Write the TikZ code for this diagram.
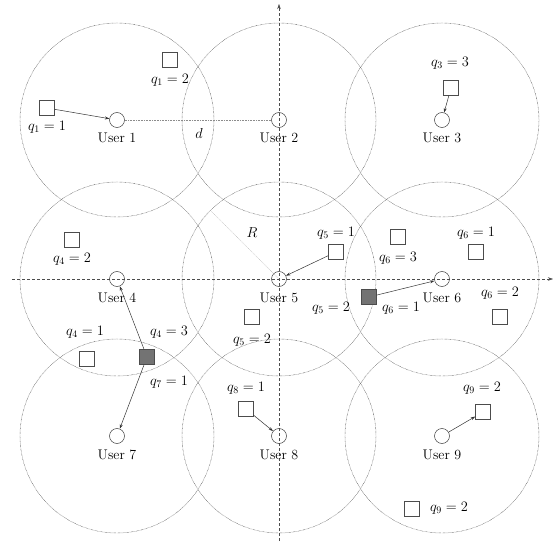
\documentclass[tikz,border=0pt]{standalone}
\usetikzlibrary{arrows.meta}
\begin{document}
\begin{tikzpicture}[x=1pt,y=-1pt,
  every node/.style={font=\fontsize{14}{16}\selectfont},
  zone/.style={draw=black!75,dash pattern=on 0.5pt off 0.8pt,line width=0.45pt},
  axis/.style={draw=black!70,dash pattern=on 3pt off 2pt,line width=0.45pt,-{Stealth[length=5pt,width=3.5pt]}},
  user/.style={draw=black!75,circle,minimum size=15pt,inner sep=0pt,line width=0.5pt},
  box/.style={draw=black!70,rectangle,minimum size=15pt,inner sep=0pt,line width=0.55pt},
  fbox/.style={box,fill=black!55},
  lbl/.style={inner sep=0pt},
  link/.style={draw=black!80,line width=0.5pt,-{Stealth[length=4.5pt,width=3pt]}},
  ]
\useasboundingbox (0,0) rectangle (558,543);
% coverage circles
\foreach \x in {117,279,442}{
  \foreach \y in {120,279,436}{
    \draw[zone] (\x,\y) circle (97);
  }
}
% axes
\coordinate (xa) at (12,279);
\coordinate (xb) at (553,279);
\coordinate (ya) at (279,541);
\coordinate (yb) at (279,4);
\draw[axis] (xa) -- (xb);
\draw[axis] (ya) -- (yb);
% users
\node[user] (u1) at (117,120) {};
\node[user] (u2) at (279,120) {};
\node[user] (u3) at (442,120) {};
\node[user] (u4) at (117,279) {};
\node[user] (u5) at (279,279) {};
\node[user] (u6) at (442,279) {};
\node[user] (u7) at (117,436) {};
\node[user] (u8) at (279,436) {};
\node[user] (u9) at (442,436) {};
\node[lbl] (l1) at (117,138) {User 1};
\node[lbl] (l2) at (279,138) {User 2};
\node[lbl] (l3) at (442,138) {User 3};
\node[lbl] (l4) at (117,298) {User 4};
\node[lbl] (l5) at (279,298) {User 5};
\node[lbl] (l6) at (442,298) {User 6};
\node[lbl] (l7) at (117,455) {User 7};
\node[lbl] (l8) at (279,455) {User 8};
\node[lbl] (l9) at (442,455) {User 9};
% d and R
\draw[draw=black!45,dash pattern=on 0.4pt off 1.2pt,line width=0.4pt] (u1) -- (u2);
\node[lbl] (dl) at (199,134) {$d$};
\coordinate (rend) at (211,211);
\draw[draw=black!30,dash pattern=on 0.5pt off 0.8pt,line width=0.4pt] (u5.center) -- (rend);
\node[lbl] (rl) at (252,233) {$R$};
% boxes and labels
\node[box] (s1a) at (170,60) {};
\node[lbl] at (170,80) {$q_1=2$};
\node[box] (s1b) at (47,108) {};
\node[lbl] at (47,127) {$q_1=1$};
\node[box] (s4a) at (72,240) {};
\node[lbl] at (72,259) {$q_4=2$};
\node[box] (s3) at (451,88) {};
\node[lbl] at (450,63) {$q_3=3$};
\node[box] (s5a) at (336,252) {};
\node[lbl] at (336,233) {$q_5=1$};
\node[box] (s6a) at (398,237) {};
\node[lbl] at (398,258) {$q_6=3$};
\node[box] (s6b) at (476,252) {};
\node[lbl] at (476,233) {$q_6=1$};
\node[box] (s5b) at (252,317) {};
\node[lbl] at (252,340) {$q_5=2$};
\node[box] (s4b) at (87,359) {};
\node[lbl] at (85,332) {$q_4=1$};
\node[fbox] (f4) at (147,357) {};
\node[lbl] at (169,332) {$q_4=3$};
\node[lbl] at (169,382) {$q_7=1$};
\node[box] (s8) at (246,409) {};
\node[lbl] at (246,388) {$q_8=1$};
\node[fbox] (f6) at (369,297) {};
\node[lbl] at (331,308) {$q_5=2$};
\node[lbl] at (401,308) {$q_6=1$};
\node[box] (s6c) at (500,317) {};
\node[lbl] at (500,293) {$q_6=2$};
\node[box] (s9a) at (483,412) {};
\node[lbl] at (482,388) {$q_9=2$};
\node[box] (s9b) at (412,509) {};
\node[lbl] at (449,508) {$q_9=2$};
% links
\draw[link] (s1b) -- (u1);
\draw[link] (s3) -- (u3);
\draw[link] (s5a) -- (u5);
\draw[link] (f4) -- (u4);
\draw[link] (f4) -- (u7);
\draw[link] (s8) -- (u8);
\draw[link] (f6) -- (u6);
\draw[link] (u9) -- (s9a);
\end{tikzpicture}
\end{document}
